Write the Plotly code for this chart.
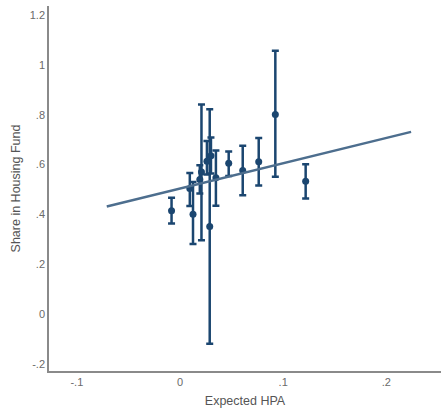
import plotly.graph_objects as go

hpa = [-0.0082, 0.0095, 0.0126, 0.0192, 0.0208, 0.0261, 0.0288, 0.0300, 0.0348, 0.0472, 0.0608, 0.0763, 0.0924, 0.1218]
share = [0.415, 0.504, 0.401, 0.540, 0.570, 0.613, 0.352, 0.635, 0.547, 0.605, 0.576, 0.611, 0.801, 0.533]
ci_hi = [0.467, 0.566, 0.530, 0.597, 0.841, 0.695, 0.822, 0.709, 0.656, 0.652, 0.675, 0.707, 1.057, 0.601]
ci_lo = [0.364, 0.434, 0.281, 0.484, 0.296, 0.560, -0.119, 0.564, 0.435, 0.554, 0.477, 0.516, 0.551, 0.464]

fit_x = [-0.071, 0.224]
fit_y = [0.432, 0.731]

x_ticks = [-0.1, 0, 0.1, 0.2]
x_labels = ["-.1", "0", ".1", ".2"]
y_ticks = [-0.2, 0, 0.2, 0.4, 0.6, 0.8, 1.0, 1.2]
y_labels = ["-.2", "0", ".2", ".4", ".6", ".8", "1", "1.2"]

navy = "#1b4670"
fig = go.Figure()
fig.add_trace(go.Scatter(
    x=hpa, y=share, mode="markers",
    marker=dict(color=navy, size=7),
    error_y=dict(type="data", symmetric=False,
                 array=[h - s for h, s in zip(ci_hi, share)],
                 arrayminus=[s - l for s, l in zip(share, ci_lo)],
                 color=navy, thickness=2.5, width=3.5),
    showlegend=False))
fig.add_trace(go.Scatter(
    x=fit_x, y=fit_y, mode="lines",
    line=dict(color="#4d6e8e", width=2.5), showlegend=False))

axis_font = dict(family="Arial, Liberation Sans, sans-serif", size=11, color="#6a6a6a")
fig.update_layout(
    width=441, height=408,
    margin=dict(l=49, r=0, t=6, b=34),
    paper_bgcolor="white", plot_bgcolor="white",
    font=dict(family="Arial, Liberation Sans, sans-serif"),
    xaxis=dict(range=[-0.127, 0.253], tickvals=x_ticks, ticktext=x_labels,
               showgrid=False, zeroline=False, showline=True, linecolor="#8a8a8a", linewidth=1.5,
               ticks="", tickfont=axis_font,
               title=dict(text="Expected HPA", font=dict(size=12.5, color="#555555"), standoff=11)),
    yaxis=dict(range=[-0.228, 1.236], tickvals=y_ticks, ticktext=y_labels,
               showgrid=False, zeroline=False, showline=True, linecolor="#8a8a8a", linewidth=1.5,
               ticks="", tickfont=axis_font,
               title=dict(text="Share in Housing Fund", font=dict(size=12.5, color="#555555"), standoff=6)),
)
fig.write_html("out.html", config={"displayModeBar": False},
               post_script="document.body.style.margin='0';")
